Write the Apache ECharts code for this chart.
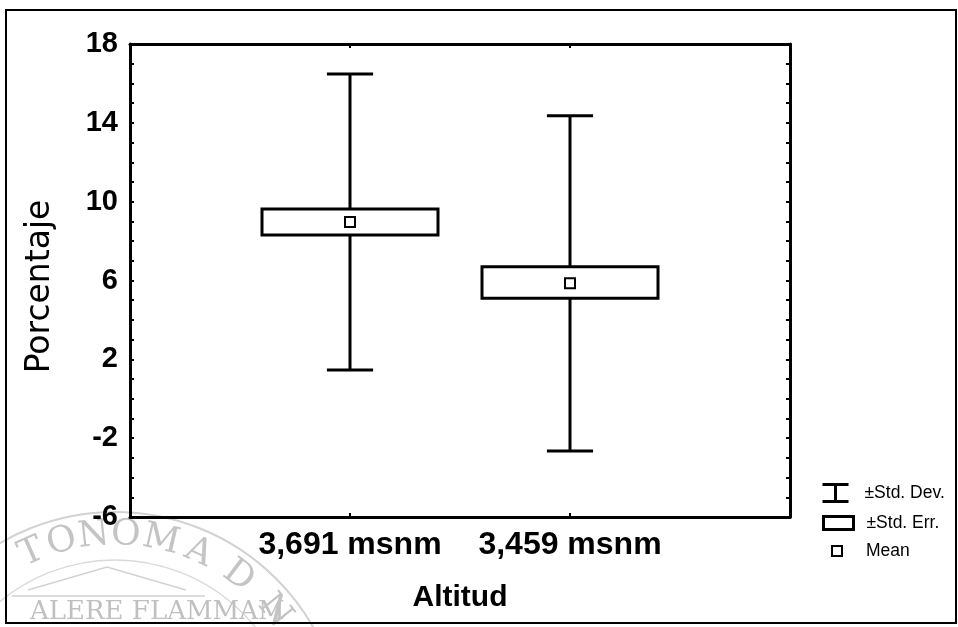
<!DOCTYPE html>
<html>
<head>
<meta charset="utf-8">
<script src="https://cdn.jsdelivr.net/npm/echarts@6/dist/echarts.min.js"></script>
<style>
  html, body { margin: 0; padding: 0; background: #fff; }
  #chart { width: 958px; height: 627px; }
</style>
</head>
<body>
<div id="chart"></div>
<script>
// datos
const categories = ['3,691 msnm', '3,459 msnm']
const means = [8.97, 5.86]
const seLow = [8.31, 5.10]
const seHigh = [9.63, 6.70]
const sdLow = [1.46, -2.65]
const sdHigh = [16.48, 14.36]
const yTicks = [-6, -2, 2, 6, 10, 14, 18]

const FONT = '"Liberation Sans", Arial, sans-serif'

const chart = echarts.init(document.getElementById('chart'))

// bigotes (desviacion estandar)
function renderWhisker(params, api) {
  const x = api.value(0)
  const lo = api.coord([x, api.value(1)])
  const hi = api.coord([x, api.value(2)])
  const half = api.size([0.105, 0])[0]
  const style = { stroke: '#000', lineWidth: 3 }
  return {
    type: 'group',
    children: [
      { type: 'line', shape: { x1: lo[0], y1: lo[1], x2: hi[0], y2: hi[1] }, style },
      { type: 'line', shape: { x1: hi[0] - half, y1: hi[1], x2: hi[0] + half, y2: hi[1] }, style },
      { type: 'line', shape: { x1: lo[0] - half, y1: lo[1], x2: lo[0] + half, y2: lo[1] }, style }
    ]
  }
}

// cajas (error estandar)
function renderBox(params, api) {
  const x = api.value(0)
  const lo = api.coord([x, api.value(1)])
  const hi = api.coord([x, api.value(2)])
  const half = api.size([0.4, 0])[0]
  return {
    type: 'rect',
    shape: { x: hi[0] - half, y: hi[1], width: half * 2, height: lo[1] - hi[1] },
    style: { fill: '#fff', stroke: '#000', lineWidth: 3 }
  }
}

// marca de agua (sello)
const sealCx = 115, sealCy = 740
const sealLetters = ['T', 'O', 'N', 'O', 'M', 'A', 'D', 'N']
const sealAngles = [-114, -105, -96, -87, -77, -66, -53, -39]
const sealChildren = [
  { type: 'circle', shape: { cx: sealCx, cy: sealCy, r: 228 }, style: { fill: null, stroke: '#d2d2d2', lineWidth: 2 } },
  { type: 'circle', shape: { cx: sealCx, cy: sealCy, r: 180 }, style: { fill: null, stroke: '#dadada', lineWidth: 1.5 } },
  { type: 'polyline', shape: { points: [[28, 590], [107, 567], [186, 590]] }, style: { fill: null, stroke: '#d2d2d2', lineWidth: 1.5 } },
  { type: 'line', shape: { x1: 12, y1: 596, x2: 205, y2: 596 }, style: { stroke: '#d2d2d2', lineWidth: 1.5 } },
  { type: 'text', x: 30, y: 599, style: { text: 'ALERE FLAMMAM', font: '26px "DejaVu Serif", serif', fill: '#c0c0c0' } }
]
sealLetters.forEach((ch, i) => {
  const a = sealAngles[i] * Math.PI / 180
  sealChildren.push({
    type: 'text',
    x: sealCx + 205 * Math.cos(a),
    y: sealCy + 205 * Math.sin(a),
    rotation: -(a + Math.PI / 2),
    style: { text: ch, font: '36px "DejaVu Serif", serif', fill: '#c4c4c4', align: 'center', verticalAlign: 'middle' }
  })
})

const legendBase = {
  orient: 'vertical',
  padding: 0,
  itemWidth: 38,
  selectedMode: false
}
const legendText = (pad) => ({ fontFamily: FONT, fontSize: 17.5, color: '#000', padding: [0, 0, 0, pad] })

const option = {
  animation: false,
  backgroundColor: '#fff',
  grid: { left: 130, right: 168, top: 44, bottom: 110, containLabel: false, outerBoundsMode: 'none' },
  xAxis: [
    {
      type: 'value',
      min: 0,
      max: 3,
      interval: 1,
      name: 'Altitud',
      nameLocation: 'middle',
      nameGap: 66,
      nameTextStyle: { fontFamily: FONT, fontSize: 30, fontWeight: 'bold', color: '#000' },
      axisLine: { onZero: false, lineStyle: { color: '#000', width: 3 } },
      axisTick: { inside: true, length: 4, lineStyle: { color: '#000', width: 2 } },
      axisLabel: {
        margin: 12,
        fontFamily: FONT,
        fontSize: 32,
        fontWeight: 'bold',
        color: '#000',
        formatter: (v) => categories[v - 1] || ''
      },
      splitLine: { show: false }
    },
    {
      type: 'value',
      position: 'top',
      min: 0,
      max: 3,
      interval: 1,
      axisLine: { show: true, onZero: false, lineStyle: { color: '#000', width: 3 } },
      axisTick: { show: true, inside: true, length: 4, lineStyle: { color: '#000', width: 2 } },
      axisLabel: { show: false },
      splitLine: { show: false }
    }
  ],
  yAxis: [
    {
      type: 'value',
      min: -6,
      max: 18,
      interval: 1,
      name: 'Porcentaje',
      nameLocation: 'middle',
      nameGap: 73,
      nameTextStyle: { fontFamily: '"DejaVu Sans", sans-serif', fontSize: 33, color: '#000', padding: [0, 12, 0, 0] },
      axisLine: { onZero: false, lineStyle: { color: '#000', width: 3 } },
      axisTick: { inside: true, length: 4, lineStyle: { color: '#000', width: 2 } },
      axisLabel: {
        margin: 12,
        fontFamily: FONT,
        fontSize: 29,
        fontWeight: 'bold',
        color: '#000',
        formatter: (v) => (yTicks.includes(v) ? String(v) : '')
      },
      splitLine: { show: false }
    },
    {
      type: 'value',
      position: 'right',
      min: -6,
      max: 18,
      interval: 1,
      axisLine: { show: true, onZero: false, lineStyle: { color: '#000', width: 3 } },
      axisTick: { show: true, inside: true, length: 4, lineStyle: { color: '#000', width: 2 } },
      axisLabel: { show: false },
      splitLine: { show: false }
    }
  ],
  legend: [
    Object.assign({}, legendBase, {
      left: 821,
      top: 483,
      itemHeight: 17,
      textStyle: legendText(5),
      data: [{ name: '±Std. Dev.', icon: 'path://M0,0H26M13,0V17M0,17H26' }],
      itemStyle: { color: 'transparent', borderColor: '#000', borderWidth: 3 }
    }),
    Object.assign({}, legendBase, {
      left: 822,
      top: 514,
      itemHeight: 13,
      textStyle: legendText(4),
      data: [{ name: '±Std. Err.', icon: 'path://M0,0H30V13H0Z' }],
      itemStyle: { color: '#fff', borderColor: '#000', borderWidth: 3 }
    }),
    Object.assign({}, legendBase, {
      left: 831,
      top: 542,
      itemHeight: 10,
      textStyle: legendText(5),
      data: [{ name: 'Mean', icon: 'path://M0,0H10V10H0Z' }],
      itemStyle: { color: '#fff', borderColor: '#000', borderWidth: 2 }
    })
  ],
  graphic: [
    { type: 'group', z: 0, silent: true, children: sealChildren },
    {
      type: 'rect',
      z: 100,
      shape: { x: 6, y: 10, width: 950, height: 613 },
      style: { fill: null, stroke: '#000', lineWidth: 2 }
    }
  ],
  series: [
    {
      name: '±Std. Dev.',
      type: 'custom',
      z: 2,
      renderItem: renderWhisker,
      itemStyle: { color: '#000' },
      encode: { x: 0, y: [1, 2] },
      data: categories.map((c, i) => [i + 1, sdLow[i], sdHigh[i]])
    },
    {
      name: '±Std. Err.',
      type: 'custom',
      z: 3,
      renderItem: renderBox,
      itemStyle: { color: '#fff' },
      encode: { x: 0, y: [1, 2] },
      data: categories.map((c, i) => [i + 1, seLow[i], seHigh[i]])
    },
    {
      name: 'Mean',
      type: 'scatter',
      z: 4,
      symbol: 'rect',
      symbolSize: 10,
      itemStyle: { color: '#fff', borderColor: '#000', borderWidth: 2, opacity: 1 },
      data: categories.map((c, i) => [i + 1, means[i]])
    }
  ]
}

chart.setOption(option)
</script>
</body>
</html>
